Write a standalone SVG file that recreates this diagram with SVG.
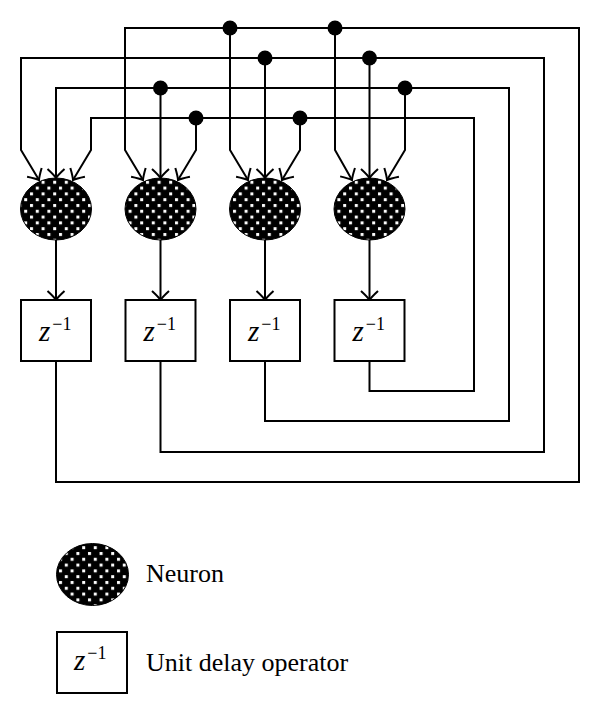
<svg xmlns="http://www.w3.org/2000/svg" width="600" height="714" viewBox="0 0 600 714">
  <style>
    .wire { fill: none; stroke: #000; stroke-width: 2; stroke-linejoin: miter; }
    .arr { marker-end: url(#arrow); }
    .box { fill: #fff; stroke: #000; stroke-width: 2; }
    .neuron { fill: url(#dots); stroke: #000; stroke-width: 1; }
    .dot { fill: #000; }
    .z { font-family: "Liberation Serif", "DejaVu Serif", serif; font-style: italic; font-size: 29px; fill: #000; }
    .sup { font-family: "Liberation Serif", "DejaVu Serif", serif; font-style: normal; font-size: 18px; }
    .label { font-family: "Liberation Serif", "DejaVu Serif", serif; font-size: 26px; fill: #000; }
  </style>
  <defs>
    <pattern id="dots" patternUnits="userSpaceOnUse" x="0" y="0" width="11.6" height="11.6">
      <rect width="11.6" height="11.6" fill="#000"/>
      <rect x="1" y="1" width="3" height="3" fill="#fff"/>
      <rect x="6.8" y="6.8" width="3" height="3" fill="#fff"/>
    </pattern>
    <marker id="arrow" viewBox="-10 -10 12 20" markerWidth="12" markerHeight="20" refX="0" refY="0" orient="auto" markerUnits="userSpaceOnUse">
      <path d="M-9,-8.5 Q-3,-2 0,0 Q-3,2 -9,8.5" fill="none" stroke="#000" stroke-width="2"/>
    </marker>
  </defs>

  <g id="connectors">
    <!-- neuron to delay arrows -->
    <path class="wire arr" d="M56,240 V300"/>
    <path class="wire arr" d="M160.5,240 V300"/>
    <path class="wire arr" d="M265,240 V300"/>
    <path class="wire arr" d="M369.5,240 V300"/>

    <!-- feedback from delay 1 (outermost) -->
    <path class="wire arr" d="M56,361 V482 H579 V28 H125 V150 L143,180"/>
    <path class="wire arr" d="M230,28 V150 L248,180"/>
    <path class="wire arr" d="M335,28 V150 L352,180"/>

    <!-- feedback from delay 2 -->
    <path class="wire arr" d="M160.5,361 V452 H544 V58 H21 V150 L39,180"/>
    <path class="wire arr" d="M265,58 V178"/>
    <path class="wire arr" d="M369.5,58 V178"/>

    <!-- feedback from delay 3 -->
    <path class="wire arr" d="M265,361 V421 H509 V88 H56 V178"/>
    <path class="wire arr" d="M160.5,88 V178"/>
    <path class="wire arr" d="M405,88 V150 L387,180"/>

    <!-- feedback from delay 4 (innermost) -->
    <path class="wire arr" d="M369.5,361 V391 H474 V118 H91 V150 L73,180"/>
    <path class="wire arr" d="M196,118 V150 L178,180"/>
    <path class="wire arr" d="M300,118 V150 L282,180"/>

    <!-- branch dots -->
    <circle class="dot" cx="230" cy="28" r="7.5"/>
    <circle class="dot" cx="335" cy="28" r="7.5"/>
    <circle class="dot" cx="265" cy="58" r="7.5"/>
    <circle class="dot" cx="369.5" cy="58" r="7.5"/>
    <circle class="dot" cx="160.5" cy="88" r="7.5"/>
    <circle class="dot" cx="405" cy="88" r="7.5"/>
    <circle class="dot" cx="196" cy="118" r="7.5"/>
    <circle class="dot" cx="300" cy="118" r="7.5"/>
  </g>

  <g id="neuron1"><ellipse class="neuron" cx="56" cy="209" rx="35.5" ry="31"/></g>
  <g id="neuron2"><ellipse class="neuron" cx="160.5" cy="209" rx="35.5" ry="31"/></g>
  <g id="neuron3"><ellipse class="neuron" cx="265" cy="209" rx="35.5" ry="31"/></g>
  <g id="neuron4"><ellipse class="neuron" cx="369.5" cy="209" rx="35.5" ry="31"/></g>

  <g id="delay1">
    <rect class="box" x="21" y="300" width="70" height="61"/>
    <text class="z" x="39" y="341">z<tspan class="sup" dx="2" dy="-11">−1</tspan></text>
  </g>
  <g id="delay2">
    <rect class="box" x="125.5" y="300" width="70" height="61"/>
    <text class="z" x="143.5" y="341">z<tspan class="sup" dx="2" dy="-11">−1</tspan></text>
  </g>
  <g id="delay3">
    <rect class="box" x="230" y="300" width="70" height="61"/>
    <text class="z" x="248" y="341">z<tspan class="sup" dx="2" dy="-11">−1</tspan></text>
  </g>
  <g id="delay4">
    <rect class="box" x="334.5" y="300" width="70" height="61"/>
    <text class="z" x="352.5" y="341">z<tspan class="sup" dx="2" dy="-11">−1</tspan></text>
  </g>

  <g id="legend-neuron">
    <ellipse class="neuron" cx="92.5" cy="574.5" rx="36" ry="31"/>
    <text class="label" x="146" y="582">Neuron</text>
  </g>
  <g id="legend-delay">
    <rect class="box" x="57" y="632" width="70" height="61"/>
    <text class="z" x="74" y="670">z<tspan class="sup" dx="2" dy="-11">−1</tspan></text>
    <text class="label" x="146" y="671">Unit delay operator</text>
  </g>
</svg>
